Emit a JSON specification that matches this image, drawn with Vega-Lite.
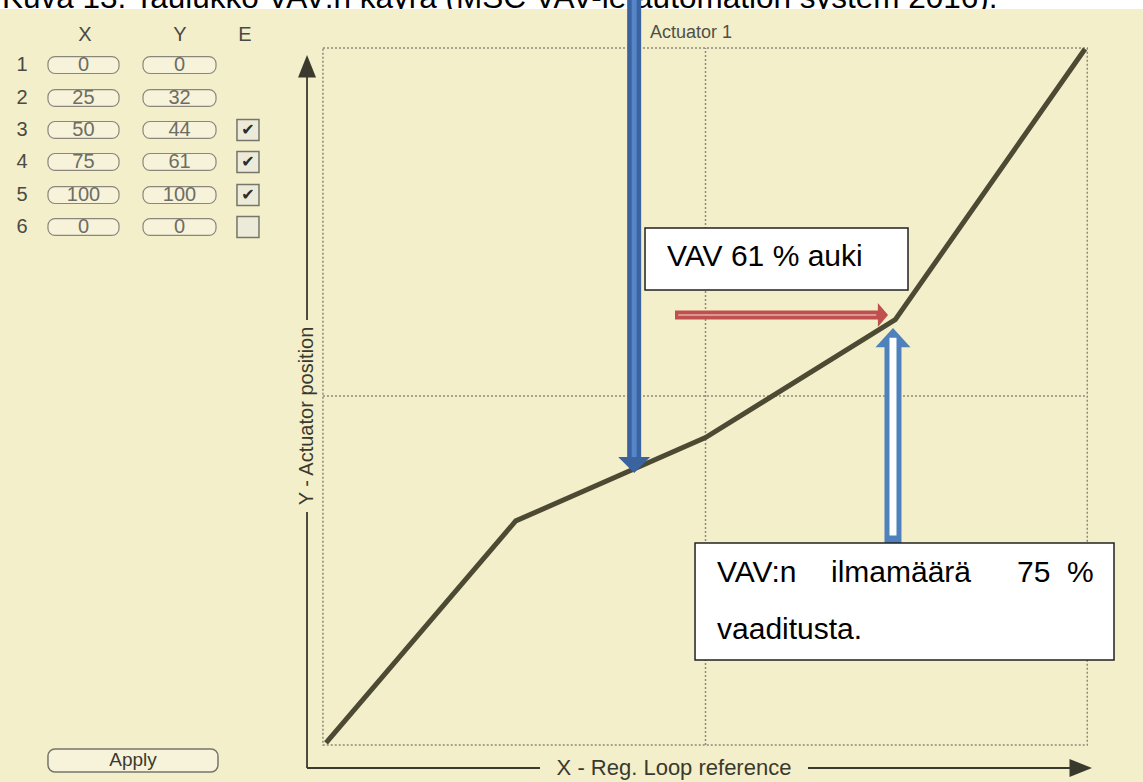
{
  "$schema": "https://vega.github.io/schema/vega-lite/v6.json",
  "width": 1143,
  "height": 782,
  "padding": 0,
  "autosize": {"type": "none"},
  "background": "#ffffff",
  "config": {"view": {"stroke": null}, "text": {"font": "Liberation Sans"}},
  "datasets": {
    "caption": [{"x": -42.7, "y": 105.95, "t": "Kuva 13. Taulukko VAV:n käyrä (MSC VAV-le automation system 2016)."}],
    "bg": [{"x": -44, "x2": 109, "y": -6, "y2": 105.76}],
    "frame": [{"x": -0.4, "x2": 100.3, "y": -0.3, "y2": 100.15}],
    "grid": [{"x": 50, "y": -0.3, "x2": 50, "y2": 100.15}, {"x": -0.4, "y": 50, "x2": 100.3, "y2": 50}],
    "curve": [{"x": 0, "y": 0}, {"x": 25, "y": 32}, {"x": 50, "y": 44}, {"x": 75, "y": 61}, {"x": 100, "y": 100}],
    "axes": [
      {"x": -2.5, "y": -3.6, "x2": -2.5, "y2": 33.29},
      {"x": -2.5, "y": 60.95, "x2": -2.5, "y2": 96.2},
      {"x": -2.5, "y": -3.6, "x2": 28.19, "y2": -3.6},
      {"x": 63.5, "y": -3.6, "x2": 98.2, "y2": -3.6}
    ],
    "yhead": [{"x": -2.5, "y": 99.14}],
    "xhead": [{"x": 100.92, "y": -3.6}],
    "ylabel": [{"x": -2.5, "y": 47.12, "t": "Y - Actuator position"}],
    "xlabel": [{"x": 45.85, "y": -3.6, "t": "X - Reg. Loop reference"}],
    "title": [{"x": 42.69, "y": 102.31, "t": "Actuator 1"}],
    "boxes": [
      {"x": -36.63, "x2": -27.27, "y": 96.47, "y2": 98.91}, {"x": -24.11, "x2": -14.49, "y": 96.47, "y2": 98.91},
      {"x": -36.63, "x2": -27.27, "y": 91.72, "y2": 94.16}, {"x": -24.11, "x2": -14.49, "y": 91.72, "y2": 94.16},
      {"x": -36.63, "x2": -27.27, "y": 87.11, "y2": 89.55}, {"x": -24.11, "x2": -14.49, "y": 87.11, "y2": 89.55},
      {"x": -36.63, "x2": -27.27, "y": 82.5, "y2": 84.94}, {"x": -24.11, "x2": -14.49, "y": 82.5, "y2": 84.94},
      {"x": -36.63, "x2": -27.27, "y": 77.74, "y2": 80.18}, {"x": -24.11, "x2": -14.49, "y": 77.74, "y2": 80.18},
      {"x": -36.63, "x2": -27.27, "y": 73.13, "y2": 75.57}, {"x": -24.11, "x2": -14.49, "y": 73.13, "y2": 75.57}
    ],
    "checkboxes": [
      {"x": -11.73, "x2": -8.83, "y": 86.83, "y2": 89.83},
      {"x": -11.73, "x2": -8.83, "y": 82.22, "y2": 85.22},
      {"x": -11.73, "x2": -8.83, "y": 77.46, "y2": 80.46},
      {"x": -11.73, "x2": -8.83, "y": 72.85, "y2": 75.85}
    ],
    "checks": [
      {"x": -10.28, "y": 88.33, "t": "✔"},
      {"x": -10.28, "y": 83.72, "t": "✔"},
      {"x": -10.28, "y": 78.96, "t": "✔"}
    ],
    "headers": [
      {"x": -31.75, "y": 102.02, "t": "X"},
      {"x": -19.24, "y": 102.02, "t": "Y"},
      {"x": -10.67, "y": 102.02, "t": "E"},
      {"x": -40.05, "y": 97.69, "t": "1"},
      {"x": -40.05, "y": 92.94, "t": "2"},
      {"x": -40.05, "y": 88.33, "t": "3"},
      {"x": -40.05, "y": 83.72, "t": "4"},
      {"x": -40.05, "y": 78.96, "t": "5"},
      {"x": -40.05, "y": 74.35, "t": "6"}
    ],
    "values": [
      {"x": -31.95, "y": 97.69, "t": "0"}, {"x": -19.3, "y": 97.69, "t": "0"},
      {"x": -31.95, "y": 92.94, "t": "25"}, {"x": -19.3, "y": 92.94, "t": "32"},
      {"x": -31.95, "y": 88.33, "t": "50"}, {"x": -19.3, "y": 88.33, "t": "44"},
      {"x": -31.95, "y": 83.72, "t": "75"}, {"x": -19.3, "y": 83.72, "t": "61"},
      {"x": -31.95, "y": 78.96, "t": "100"}, {"x": -19.3, "y": 78.96, "t": "100"},
      {"x": -31.95, "y": 74.35, "t": "0"}, {"x": -19.3, "y": 74.35, "t": "0"}
    ],
    "apply": [{"x": -36.63, "x2": -14.23, "y": -4.18, "y2": -0.86}],
    "applytext": [{"x": -25.43, "y": -2.45, "t": "Apply"}],
    "blueshaft": [{"x": 40.6, "y": 108, "x2": 40.6, "y2": 40.9}],
    "bluehead": [{"x": 40.6, "y": 38.9}],
    "redshaft": [{"x": 45.98, "y": 61.67, "x2": 72.9, "y2": 61.67}],
    "redinner": [{"x": 46.4, "y": 61.67, "x2": 72.5, "y2": 61.67}],
    "redhead": [{"x": 74.05, "y": 61.67}],
    "hollowshaft": [{"x": 74.7, "y": 28.82, "x2": 74.7, "y2": 57.3}],
    "hollowhead": [{"x": 74.7, "y": 59.8}],
    "hollowinner": [{"x": 74.7, "y": 29.9, "x2": 74.7, "y2": 58.4}],
    "boxes2": [
      {"x": 42.03, "x2": 76.68, "y": 65.27, "y2": 74.2},
      {"x": 48.62, "x2": 103.82, "y": 11.96, "y2": 28.82}
    ],
    "boxtext": [
      {"x": 44.93, "y": 70.0, "t": "VAV 61 % auki"},
      {"x": 51.52, "y": 24.5, "t": "VAV:n"},
      {"x": 66.53, "y": 24.5, "t": "ilmamäärä"},
      {"x": 91.04, "y": 24.5, "t": "75"},
      {"x": 97.63, "y": 24.5, "t": "%"},
      {"x": 51.52, "y": 16.28, "t": "vaaditusta."}
    ]
  },
  "encoding": {
    "x": {"field": "x", "type": "quantitative", "scale": {"domain": [-42.95, 107.64], "nice": false, "zero": false}, "axis": null},
    "y": {"field": "y", "type": "quantitative", "scale": {"domain": [-5.62, 107.06], "nice": false, "zero": false}, "axis": null}
  },
  "layer": [
    {"data": {"name": "caption"}, "mark": {"type": "text", "align": "left", "baseline": "alphabetic", "fontSize": 31.5, "color": "#000000"}, "encoding": {"text": {"field": "t"}}},
    {"data": {"name": "bg"}, "mark": {"type": "rect", "color": "#f3efcb"}, "encoding": {"x2": {"field": "x2"}, "y2": {"field": "y2"}}},
    {"data": {"name": "frame"}, "mark": {"type": "rect", "fill": null, "fillOpacity": 0, "stroke": "#8c8a78", "strokeWidth": 1.5, "strokeDash": [2, 2]}, "encoding": {"x2": {"field": "x2"}, "y2": {"field": "y2"}}},
    {"data": {"name": "grid"}, "mark": {"type": "rule", "color": "#8c8a78", "strokeWidth": 1.5, "strokeDash": [2, 2]}, "encoding": {"x2": {"field": "x2"}, "y2": {"field": "y2"}}},
    {"data": {"name": "curve"}, "mark": {"type": "line", "color": "#4d4a34", "strokeWidth": 5, "strokeJoin": "miter"}, "encoding": {}},
    {"data": {"name": "axes"}, "mark": {"type": "rule", "color": "#3a392e", "strokeWidth": 1.8}, "encoding": {"x2": {"field": "x2"}, "y2": {"field": "y2"}}},
    {"data": {"name": "yhead"}, "mark": {"type": "point", "shape": "M0,0 L-1,2.5 L1,2.5 Z", "size": 324, "filled": true, "color": "#3a392e", "opacity": 1}, "encoding": {}},
    {"data": {"name": "xhead"}, "mark": {"type": "point", "shape": "M0,0 L-2.5,-1 L-2.5,1 Z", "size": 324, "filled": true, "color": "#3a392e", "opacity": 1}, "encoding": {}},
    {"data": {"name": "ylabel"}, "mark": {"type": "text", "angle": 270, "align": "center", "baseline": "middle", "fontSize": 20, "color": "#3a392e"}, "encoding": {"text": {"field": "t"}}},
    {"data": {"name": "xlabel"}, "mark": {"type": "text", "align": "center", "baseline": "middle", "fontSize": 22, "color": "#3a392e"}, "encoding": {"text": {"field": "t"}}},
    {"data": {"name": "title"}, "mark": {"type": "text", "align": "left", "baseline": "middle", "fontSize": 18, "color": "#505048"}, "encoding": {"text": {"field": "t"}}},
    {"data": {"name": "boxes"}, "mark": {"type": "rect", "fill": "#f6f3da", "stroke": "#8a877a", "strokeWidth": 1.2, "cornerRadius": 7}, "encoding": {"x2": {"field": "x2"}, "y2": {"field": "y2"}}},
    {"data": {"name": "checkboxes"}, "mark": {"type": "rect", "fill": "#ecead8", "stroke": "#77756a", "strokeWidth": 1.5}, "encoding": {"x2": {"field": "x2"}, "y2": {"field": "y2"}}},
    {"data": {"name": "checks"}, "mark": {"type": "text", "align": "center", "baseline": "middle", "fontSize": 16, "font": "DejaVu Sans", "color": "#2e2d28"}, "encoding": {"text": {"field": "t"}}},
    {"data": {"name": "headers"}, "mark": {"type": "text", "align": "center", "baseline": "middle", "fontSize": 20, "color": "#4a4a44"}, "encoding": {"text": {"field": "t"}}},
    {"data": {"name": "values"}, "mark": {"type": "text", "align": "center", "baseline": "middle", "fontSize": 20, "color": "#6e6d62"}, "encoding": {"text": {"field": "t"}}},
    {"data": {"name": "apply"}, "mark": {"type": "rect", "fill": "#f6f3da", "stroke": "#77756a", "strokeWidth": 1.5, "cornerRadius": 7}, "encoding": {"x2": {"field": "x2"}, "y2": {"field": "y2"}}},
    {"data": {"name": "applytext"}, "mark": {"type": "text", "align": "center", "baseline": "middle", "fontSize": 19, "color": "#3a392e"}, "encoding": {"text": {"field": "t"}}},
    {"data": {"name": "redshaft"}, "mark": {"type": "rule", "color": "#c0504d", "strokeWidth": 9}, "encoding": {"x2": {"field": "x2"}, "y2": {"field": "y2"}}},
    {"data": {"name": "redinner"}, "mark": {"type": "rule", "color": "#f6dede", "strokeWidth": 1.2}, "encoding": {"x2": {"field": "x2"}, "y2": {"field": "y2"}}},
    {"data": {"name": "redhead"}, "mark": {"type": "point", "shape": "M0,0 L-0.85,-1 L-0.85,1 Z", "size": 576, "filled": true, "color": "#c0504d", "opacity": 1}, "encoding": {}},
    {"data": {"name": "hollowshaft"}, "mark": {"type": "rule", "color": "#4f81bd", "strokeWidth": 17}, "encoding": {"x2": {"field": "x2"}, "y2": {"field": "y2"}}},
    {"data": {"name": "hollowhead"}, "mark": {"type": "point", "shape": "M0,0 L-1,1.1 L1,1.1 Z", "size": 1225, "filled": true, "color": "#4f81bd", "opacity": 1}, "encoding": {}},
    {"data": {"name": "hollowinner"}, "mark": {"type": "rule", "color": "#ffffff", "strokeWidth": 7}, "encoding": {"x2": {"field": "x2"}, "y2": {"field": "y2"}}},
    {"data": {"name": "boxes2"}, "mark": {"type": "rect", "fill": "#ffffff", "stroke": "#222222", "strokeWidth": 1.5}, "encoding": {"x2": {"field": "x2"}, "y2": {"field": "y2"}}},
    {"data": {"name": "boxtext"}, "mark": {"type": "text", "align": "left", "baseline": "middle", "fontSize": 30, "color": "#000000"}, "encoding": {"text": {"field": "t"}}},
    {"data": {"name": "blueshaft"}, "mark": {"type": "rule", "color": "#3a63a0", "strokeWidth": 14}, "encoding": {"x2": {"field": "x2"}, "y2": {"field": "y2"}}},
    {"data": {"name": "blueshaft"}, "mark": {"type": "rule", "color": "#5686c8", "strokeWidth": 5}, "encoding": {"x2": {"field": "x2"}, "y2": {"field": "y2"}}},
    {"data": {"name": "bluehead"}, "mark": {"type": "point", "shape": "M0,0 L-1,-1 L1,-1 Z", "size": 1024, "filled": true, "color": "#3a63a0", "opacity": 1}, "encoding": {}}
  ]
}
